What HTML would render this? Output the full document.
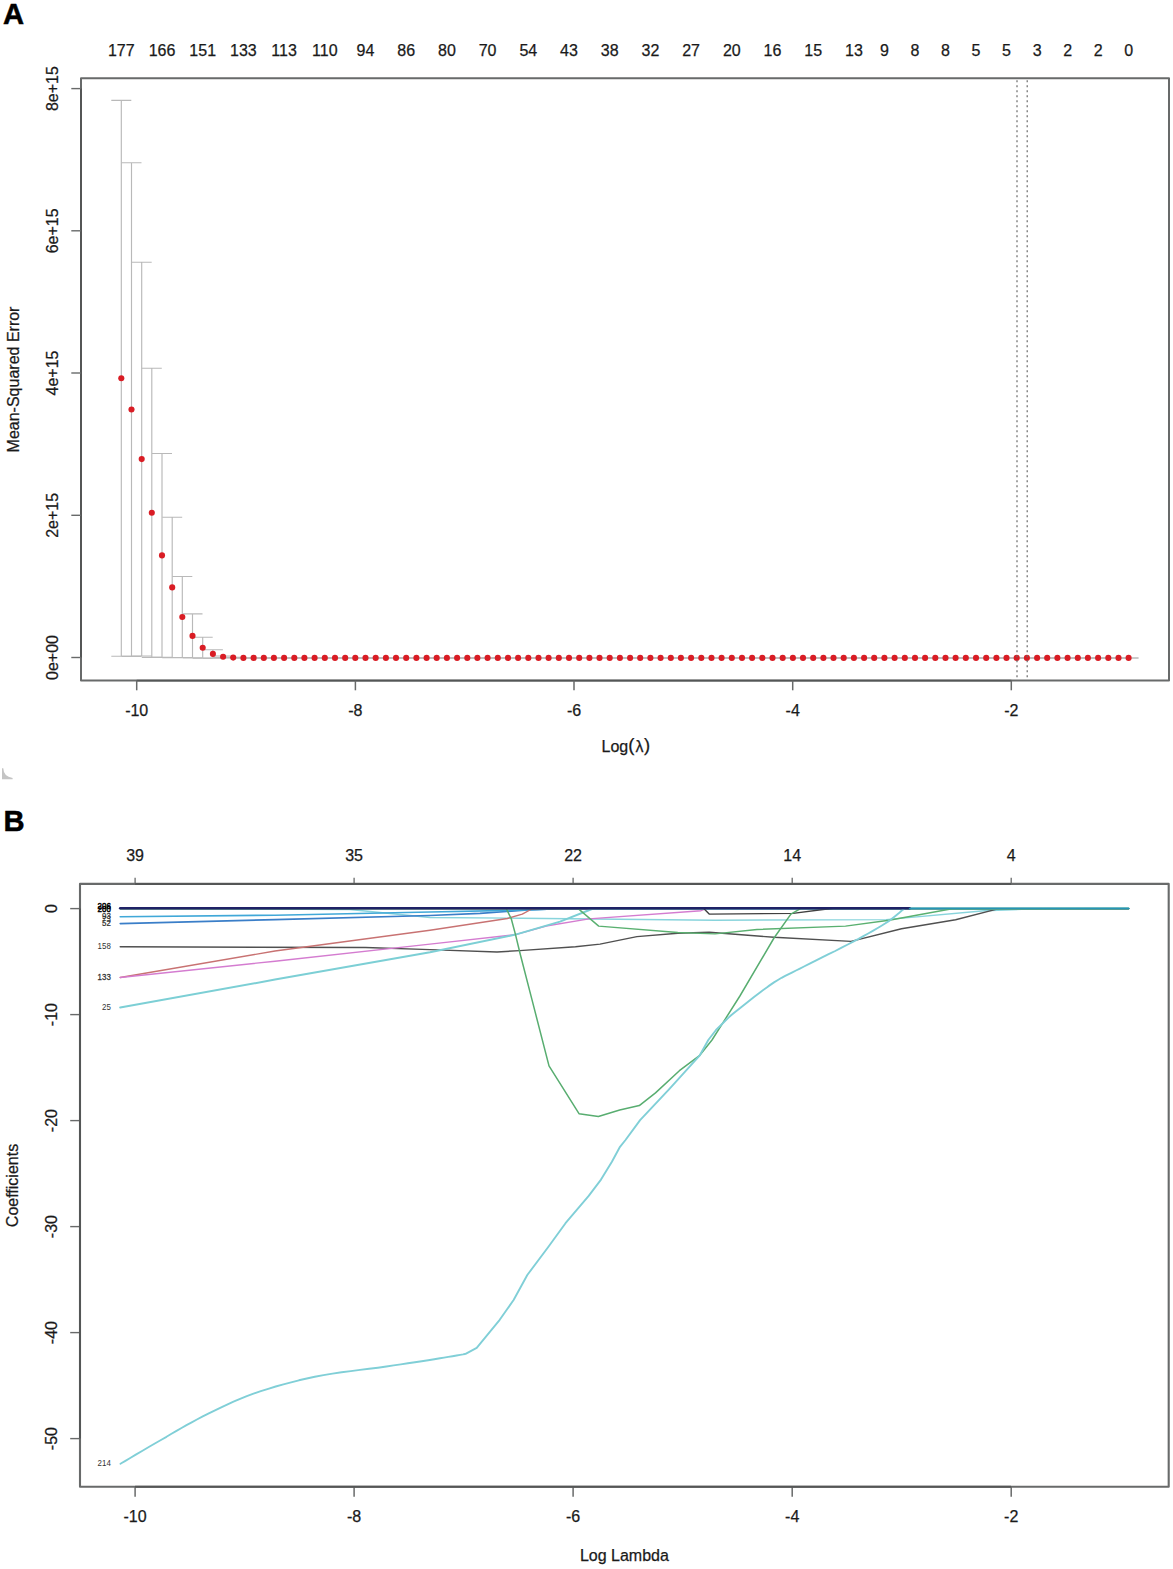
<!DOCTYPE html>
<html><head><meta charset="utf-8"><style>
html,body{margin:0;padding:0;background:#fff;}
svg{display:block;}
text{font-family:"Liberation Sans", sans-serif;}
.t{stroke:#1a1a1a;stroke-width:0.25px;}
</style></head><body>
<svg width="1173" height="1569" viewBox="0 0 1173 1569">
<rect width="1173" height="1569" fill="#fff"/>
<text x="3.0" y="23.9" font-size="29.2" text-anchor="start" font-weight="bold" fill="#000" stroke="#000" stroke-width="0.5">A</text>
<text x="121.3" y="55.6" font-size="16" text-anchor="middle" font-weight="normal" fill="#1a1a1a" class="t" >177</text>
<text x="162.0" y="55.6" font-size="16" text-anchor="middle" font-weight="normal" fill="#1a1a1a" class="t" >166</text>
<text x="202.7" y="55.6" font-size="16" text-anchor="middle" font-weight="normal" fill="#1a1a1a" class="t" >151</text>
<text x="243.4" y="55.6" font-size="16" text-anchor="middle" font-weight="normal" fill="#1a1a1a" class="t" >133</text>
<text x="284.1" y="55.6" font-size="16" text-anchor="middle" font-weight="normal" fill="#1a1a1a" class="t" >113</text>
<text x="324.8" y="55.6" font-size="16" text-anchor="middle" font-weight="normal" fill="#1a1a1a" class="t" >110</text>
<text x="365.5" y="55.6" font-size="16" text-anchor="middle" font-weight="normal" fill="#1a1a1a" class="t" >94</text>
<text x="406.2" y="55.6" font-size="16" text-anchor="middle" font-weight="normal" fill="#1a1a1a" class="t" >86</text>
<text x="446.9" y="55.6" font-size="16" text-anchor="middle" font-weight="normal" fill="#1a1a1a" class="t" >80</text>
<text x="487.6" y="55.6" font-size="16" text-anchor="middle" font-weight="normal" fill="#1a1a1a" class="t" >70</text>
<text x="528.3" y="55.6" font-size="16" text-anchor="middle" font-weight="normal" fill="#1a1a1a" class="t" >54</text>
<text x="569.0" y="55.6" font-size="16" text-anchor="middle" font-weight="normal" fill="#1a1a1a" class="t" >43</text>
<text x="609.7" y="55.6" font-size="16" text-anchor="middle" font-weight="normal" fill="#1a1a1a" class="t" >38</text>
<text x="650.4" y="55.6" font-size="16" text-anchor="middle" font-weight="normal" fill="#1a1a1a" class="t" >32</text>
<text x="691.1" y="55.6" font-size="16" text-anchor="middle" font-weight="normal" fill="#1a1a1a" class="t" >27</text>
<text x="731.8" y="55.6" font-size="16" text-anchor="middle" font-weight="normal" fill="#1a1a1a" class="t" >20</text>
<text x="772.5" y="55.6" font-size="16" text-anchor="middle" font-weight="normal" fill="#1a1a1a" class="t" >16</text>
<text x="813.2" y="55.6" font-size="16" text-anchor="middle" font-weight="normal" fill="#1a1a1a" class="t" >15</text>
<text x="853.9" y="55.6" font-size="16" text-anchor="middle" font-weight="normal" fill="#1a1a1a" class="t" >13</text>
<text x="884.4" y="55.6" font-size="16" text-anchor="middle" font-weight="normal" fill="#1a1a1a" class="t" >9</text>
<text x="915.0" y="55.6" font-size="16" text-anchor="middle" font-weight="normal" fill="#1a1a1a" class="t" >8</text>
<text x="945.5" y="55.6" font-size="16" text-anchor="middle" font-weight="normal" fill="#1a1a1a" class="t" >8</text>
<text x="976.0" y="55.6" font-size="16" text-anchor="middle" font-weight="normal" fill="#1a1a1a" class="t" >5</text>
<text x="1006.5" y="55.6" font-size="16" text-anchor="middle" font-weight="normal" fill="#1a1a1a" class="t" >5</text>
<text x="1037.1" y="55.6" font-size="16" text-anchor="middle" font-weight="normal" fill="#1a1a1a" class="t" >3</text>
<text x="1067.6" y="55.6" font-size="16" text-anchor="middle" font-weight="normal" fill="#1a1a1a" class="t" >2</text>
<text x="1098.1" y="55.6" font-size="16" text-anchor="middle" font-weight="normal" fill="#1a1a1a" class="t" >2</text>
<text x="1128.6" y="55.6" font-size="16" text-anchor="middle" font-weight="normal" fill="#1a1a1a" class="t" >0</text>
<g stroke="#b9b9b9" stroke-width="1.15" fill="none">
<path d="M121.3,100.4V656.2M111.3,100.4H131.3M111.3,656.2H131.3"/>
<path d="M131.5,162.7V656.3M121.5,162.7H141.5M121.5,656.3H141.5"/>
<path d="M141.7,262.2V656.0M131.7,262.2H151.7M131.7,656.0H151.7"/>
<path d="M151.8,368.2V657.4M141.8,368.2H161.8M141.8,657.4H161.8"/>
<path d="M162.0,453.5V657.3M152.0,453.5H172.0M152.0,657.3H172.0"/>
<path d="M172.2,517.2V657.6M162.2,517.2H182.2M162.2,657.6H182.2"/>
<path d="M182.3,576.5V657.5M172.3,576.5H192.3M172.3,657.5H192.3"/>
<path d="M192.5,613.9V657.9M182.5,613.9H202.5M182.5,657.9H202.5"/>
<path d="M202.7,637.2V658.2M192.7,637.2H212.7M192.7,658.2H212.7"/>
<path d="M212.9,649.7V658.1M202.9,649.7H222.9M202.9,658.1H222.9"/>
<path d="M223.1,656.0V657.6M213.1,656.0H233.1M213.1,657.6H233.1"/>
<path d="M233.2,657.3V657.9M223.2,657.3H243.2M223.2,657.9H243.2"/>
<path d="M243.4,657.7V658.2M233.4,657.7H253.4M233.4,658.2H253.4"/>
<path d="M253.6,657.7V658.2M243.6,657.7H263.6M243.6,658.2H263.6"/>
<path d="M263.8,657.7V658.2M253.8,657.7H273.8M253.8,658.2H273.8"/>
<path d="M273.9,657.7V658.2M263.9,657.7H283.9M263.9,658.2H283.9"/>
<path d="M284.1,657.7V658.2M274.1,657.7H294.1M274.1,658.2H294.1"/>
<path d="M294.3,657.7V658.2M284.3,657.7H304.3M284.3,658.2H304.3"/>
<path d="M304.4,657.7V658.2M294.4,657.7H314.4M294.4,658.2H314.4"/>
<path d="M314.6,657.7V658.2M304.6,657.7H324.6M304.6,658.2H324.6"/>
<path d="M324.8,657.7V658.2M314.8,657.7H334.8M314.8,658.2H334.8"/>
<path d="M335.0,657.7V658.2M325.0,657.7H345.0M325.0,658.2H345.0"/>
<path d="M345.2,657.7V658.2M335.2,657.7H355.2M335.2,658.2H355.2"/>
<path d="M355.3,657.7V658.2M345.3,657.7H365.3M345.3,658.2H365.3"/>
<path d="M365.5,657.7V658.2M355.5,657.7H375.5M355.5,658.2H375.5"/>
<path d="M375.7,657.7V658.2M365.7,657.7H385.7M365.7,658.2H385.7"/>
<path d="M385.9,657.7V658.2M375.9,657.7H395.9M375.9,658.2H395.9"/>
<path d="M396.0,657.7V658.2M386.0,657.7H406.0M386.0,658.2H406.0"/>
<path d="M406.2,657.7V658.2M396.2,657.7H416.2M396.2,658.2H416.2"/>
<path d="M416.4,657.7V658.2M406.4,657.7H426.4M406.4,658.2H426.4"/>
<path d="M426.6,657.7V658.2M416.6,657.7H436.6M416.6,658.2H436.6"/>
<path d="M436.7,657.7V658.2M426.7,657.7H446.7M426.7,658.2H446.7"/>
<path d="M446.9,657.7V658.2M436.9,657.7H456.9M436.9,658.2H456.9"/>
<path d="M457.1,657.7V658.2M447.1,657.7H467.1M447.1,658.2H467.1"/>
<path d="M467.3,657.7V658.2M457.3,657.7H477.3M457.3,658.2H477.3"/>
<path d="M477.4,657.7V658.2M467.4,657.7H487.4M467.4,658.2H487.4"/>
<path d="M487.6,657.7V658.2M477.6,657.7H497.6M477.6,658.2H497.6"/>
<path d="M497.8,657.7V658.2M487.8,657.7H507.8M487.8,658.2H507.8"/>
<path d="M508.0,657.7V658.2M498.0,657.7H518.0M498.0,658.2H518.0"/>
<path d="M518.1,657.7V658.2M508.1,657.7H528.1M508.1,658.2H528.1"/>
<path d="M528.3,657.7V658.2M518.3,657.7H538.3M518.3,658.2H538.3"/>
<path d="M538.5,657.7V658.2M528.5,657.7H548.5M528.5,658.2H548.5"/>
<path d="M548.6,657.7V658.2M538.6,657.7H558.6M538.6,658.2H558.6"/>
<path d="M558.8,657.7V658.2M548.8,657.7H568.8M548.8,658.2H568.8"/>
<path d="M569.0,657.7V658.2M559.0,657.7H579.0M559.0,658.2H579.0"/>
<path d="M579.2,657.7V658.2M569.2,657.7H589.2M569.2,658.2H589.2"/>
<path d="M589.4,657.7V658.2M579.4,657.7H599.4M579.4,658.2H599.4"/>
<path d="M599.5,657.7V658.2M589.5,657.7H609.5M589.5,658.2H609.5"/>
<path d="M609.7,657.7V658.2M599.7,657.7H619.7M599.7,658.2H619.7"/>
<path d="M619.9,657.7V658.2M609.9,657.7H629.9M609.9,658.2H629.9"/>
<path d="M630.1,657.7V658.2M620.1,657.7H640.1M620.1,658.2H640.1"/>
<path d="M640.2,657.7V658.2M630.2,657.7H650.2M630.2,658.2H650.2"/>
<path d="M650.4,657.7V658.2M640.4,657.7H660.4M640.4,658.2H660.4"/>
<path d="M660.6,657.7V658.2M650.6,657.7H670.6M650.6,658.2H670.6"/>
<path d="M670.8,657.7V658.2M660.8,657.7H680.8M660.8,658.2H680.8"/>
<path d="M680.9,657.7V658.2M670.9,657.7H690.9M670.9,658.2H690.9"/>
<path d="M691.1,657.7V658.2M681.1,657.7H701.1M681.1,658.2H701.1"/>
<path d="M701.3,657.7V658.2M691.3,657.7H711.3M691.3,658.2H711.3"/>
<path d="M711.5,657.7V658.2M701.5,657.7H721.5M701.5,658.2H721.5"/>
<path d="M721.6,657.7V658.2M711.6,657.7H731.6M711.6,658.2H731.6"/>
<path d="M731.8,657.7V658.2M721.8,657.7H741.8M721.8,658.2H741.8"/>
<path d="M742.0,657.7V658.2M732.0,657.7H752.0M732.0,658.2H752.0"/>
<path d="M752.1,657.7V658.2M742.1,657.7H762.1M742.1,658.2H762.1"/>
<path d="M762.3,657.7V658.2M752.3,657.7H772.3M752.3,658.2H772.3"/>
<path d="M772.5,657.7V658.2M762.5,657.7H782.5M762.5,658.2H782.5"/>
<path d="M782.7,657.7V658.2M772.7,657.7H792.7M772.7,658.2H792.7"/>
<path d="M792.9,657.7V658.2M782.9,657.7H802.9M782.9,658.2H802.9"/>
<path d="M803.0,657.7V658.2M793.0,657.7H813.0M793.0,658.2H813.0"/>
<path d="M813.2,657.7V658.2M803.2,657.7H823.2M803.2,658.2H823.2"/>
<path d="M823.4,657.7V658.2M813.4,657.7H833.4M813.4,658.2H833.4"/>
<path d="M833.5,657.7V658.2M823.5,657.7H843.5M823.5,658.2H843.5"/>
<path d="M843.7,657.7V658.2M833.7,657.7H853.7M833.7,658.2H853.7"/>
<path d="M853.9,657.7V658.2M843.9,657.7H863.9M843.9,658.2H863.9"/>
<path d="M864.1,657.7V658.2M854.1,657.7H874.1M854.1,658.2H874.1"/>
<path d="M874.2,657.7V658.2M864.2,657.7H884.2M864.2,658.2H884.2"/>
<path d="M884.4,657.7V658.2M874.4,657.7H894.4M874.4,658.2H894.4"/>
<path d="M894.6,657.7V658.2M884.6,657.7H904.6M884.6,658.2H904.6"/>
<path d="M904.8,657.7V658.2M894.8,657.7H914.8M894.8,658.2H914.8"/>
<path d="M915.0,657.7V658.2M905.0,657.7H925.0M905.0,658.2H925.0"/>
<path d="M925.1,657.7V658.2M915.1,657.7H935.1M915.1,658.2H935.1"/>
<path d="M935.3,657.7V658.2M925.3,657.7H945.3M925.3,658.2H945.3"/>
<path d="M945.5,657.7V658.2M935.5,657.7H955.5M935.5,658.2H955.5"/>
<path d="M955.6,657.7V658.2M945.6,657.7H965.6M945.6,658.2H965.6"/>
<path d="M965.8,657.7V658.2M955.8,657.7H975.8M955.8,658.2H975.8"/>
<path d="M976.0,657.7V658.2M966.0,657.7H986.0M966.0,658.2H986.0"/>
<path d="M986.2,657.7V658.2M976.2,657.7H996.2M976.2,658.2H996.2"/>
<path d="M996.4,657.7V658.2M986.4,657.7H1006.4M986.4,658.2H1006.4"/>
<path d="M1006.5,657.7V658.2M996.5,657.7H1016.5M996.5,658.2H1016.5"/>
<path d="M1016.7,657.7V658.2M1006.7,657.7H1026.7M1006.7,658.2H1026.7"/>
<path d="M1026.9,657.7V658.2M1016.9,657.7H1036.9M1016.9,658.2H1036.9"/>
<path d="M1037.1,657.7V658.2M1027.1,657.7H1047.1M1027.1,658.2H1047.1"/>
<path d="M1047.2,657.7V658.2M1037.2,657.7H1057.2M1037.2,658.2H1057.2"/>
<path d="M1057.4,657.7V658.2M1047.4,657.7H1067.4M1047.4,658.2H1067.4"/>
<path d="M1067.6,657.7V658.2M1057.6,657.7H1077.6M1057.6,658.2H1077.6"/>
<path d="M1077.8,657.7V658.2M1067.8,657.7H1087.8M1067.8,658.2H1087.8"/>
<path d="M1087.9,657.7V658.2M1077.9,657.7H1097.9M1077.9,658.2H1097.9"/>
<path d="M1098.1,657.7V658.2M1088.1,657.7H1108.1M1088.1,658.2H1108.1"/>
<path d="M1108.3,657.7V658.2M1098.3,657.7H1118.3M1098.3,658.2H1118.3"/>
<path d="M1118.5,657.7V658.2M1108.5,657.7H1128.5M1108.5,658.2H1128.5"/>
<path d="M1128.6,657.7V658.2M1118.6,657.7H1138.6M1118.6,658.2H1138.6"/>
</g>
<g fill="#d91c24">
<circle cx="121.3" cy="378.3" r="3.05"/>
<circle cx="131.5" cy="409.5" r="3.05"/>
<circle cx="141.7" cy="459.1" r="3.05"/>
<circle cx="151.8" cy="512.8" r="3.05"/>
<circle cx="162.0" cy="555.4" r="3.05"/>
<circle cx="172.2" cy="587.4" r="3.05"/>
<circle cx="182.3" cy="617.0" r="3.05"/>
<circle cx="192.5" cy="635.9" r="3.05"/>
<circle cx="202.7" cy="647.7" r="3.05"/>
<circle cx="212.9" cy="653.9" r="3.05"/>
<circle cx="223.1" cy="656.8" r="3.05"/>
<circle cx="233.2" cy="657.6" r="3.05"/>
<circle cx="243.4" cy="657.9" r="3.05"/>
<circle cx="253.6" cy="657.9" r="3.05"/>
<circle cx="263.8" cy="657.9" r="3.05"/>
<circle cx="273.9" cy="657.9" r="3.05"/>
<circle cx="284.1" cy="657.9" r="3.05"/>
<circle cx="294.3" cy="657.9" r="3.05"/>
<circle cx="304.4" cy="657.9" r="3.05"/>
<circle cx="314.6" cy="657.9" r="3.05"/>
<circle cx="324.8" cy="657.9" r="3.05"/>
<circle cx="335.0" cy="657.9" r="3.05"/>
<circle cx="345.2" cy="657.9" r="3.05"/>
<circle cx="355.3" cy="657.9" r="3.05"/>
<circle cx="365.5" cy="657.9" r="3.05"/>
<circle cx="375.7" cy="657.9" r="3.05"/>
<circle cx="385.9" cy="657.9" r="3.05"/>
<circle cx="396.0" cy="657.9" r="3.05"/>
<circle cx="406.2" cy="657.9" r="3.05"/>
<circle cx="416.4" cy="657.9" r="3.05"/>
<circle cx="426.6" cy="657.9" r="3.05"/>
<circle cx="436.7" cy="657.9" r="3.05"/>
<circle cx="446.9" cy="657.9" r="3.05"/>
<circle cx="457.1" cy="657.9" r="3.05"/>
<circle cx="467.3" cy="657.9" r="3.05"/>
<circle cx="477.4" cy="657.9" r="3.05"/>
<circle cx="487.6" cy="657.9" r="3.05"/>
<circle cx="497.8" cy="657.9" r="3.05"/>
<circle cx="508.0" cy="657.9" r="3.05"/>
<circle cx="518.1" cy="657.9" r="3.05"/>
<circle cx="528.3" cy="657.9" r="3.05"/>
<circle cx="538.5" cy="657.9" r="3.05"/>
<circle cx="548.6" cy="657.9" r="3.05"/>
<circle cx="558.8" cy="657.9" r="3.05"/>
<circle cx="569.0" cy="657.9" r="3.05"/>
<circle cx="579.2" cy="657.9" r="3.05"/>
<circle cx="589.4" cy="657.9" r="3.05"/>
<circle cx="599.5" cy="657.9" r="3.05"/>
<circle cx="609.7" cy="657.9" r="3.05"/>
<circle cx="619.9" cy="657.9" r="3.05"/>
<circle cx="630.1" cy="657.9" r="3.05"/>
<circle cx="640.2" cy="657.9" r="3.05"/>
<circle cx="650.4" cy="657.9" r="3.05"/>
<circle cx="660.6" cy="657.9" r="3.05"/>
<circle cx="670.8" cy="657.9" r="3.05"/>
<circle cx="680.9" cy="657.9" r="3.05"/>
<circle cx="691.1" cy="657.9" r="3.05"/>
<circle cx="701.3" cy="657.9" r="3.05"/>
<circle cx="711.5" cy="657.9" r="3.05"/>
<circle cx="721.6" cy="657.9" r="3.05"/>
<circle cx="731.8" cy="657.9" r="3.05"/>
<circle cx="742.0" cy="657.9" r="3.05"/>
<circle cx="752.1" cy="657.9" r="3.05"/>
<circle cx="762.3" cy="657.9" r="3.05"/>
<circle cx="772.5" cy="657.9" r="3.05"/>
<circle cx="782.7" cy="657.9" r="3.05"/>
<circle cx="792.9" cy="657.9" r="3.05"/>
<circle cx="803.0" cy="657.9" r="3.05"/>
<circle cx="813.2" cy="657.9" r="3.05"/>
<circle cx="823.4" cy="657.9" r="3.05"/>
<circle cx="833.5" cy="657.9" r="3.05"/>
<circle cx="843.7" cy="657.9" r="3.05"/>
<circle cx="853.9" cy="657.9" r="3.05"/>
<circle cx="864.1" cy="657.9" r="3.05"/>
<circle cx="874.2" cy="657.9" r="3.05"/>
<circle cx="884.4" cy="657.9" r="3.05"/>
<circle cx="894.6" cy="657.9" r="3.05"/>
<circle cx="904.8" cy="657.9" r="3.05"/>
<circle cx="915.0" cy="657.9" r="3.05"/>
<circle cx="925.1" cy="657.9" r="3.05"/>
<circle cx="935.3" cy="657.9" r="3.05"/>
<circle cx="945.5" cy="657.9" r="3.05"/>
<circle cx="955.6" cy="657.9" r="3.05"/>
<circle cx="965.8" cy="657.9" r="3.05"/>
<circle cx="976.0" cy="657.9" r="3.05"/>
<circle cx="986.2" cy="657.9" r="3.05"/>
<circle cx="996.4" cy="657.9" r="3.05"/>
<circle cx="1006.5" cy="657.9" r="3.05"/>
<circle cx="1016.7" cy="657.9" r="3.05"/>
<circle cx="1026.9" cy="657.9" r="3.05"/>
<circle cx="1037.1" cy="657.9" r="3.05"/>
<circle cx="1047.2" cy="657.9" r="3.05"/>
<circle cx="1057.4" cy="657.9" r="3.05"/>
<circle cx="1067.6" cy="657.9" r="3.05"/>
<circle cx="1077.8" cy="657.9" r="3.05"/>
<circle cx="1087.9" cy="657.9" r="3.05"/>
<circle cx="1098.1" cy="657.9" r="3.05"/>
<circle cx="1108.3" cy="657.9" r="3.05"/>
<circle cx="1118.5" cy="657.9" r="3.05"/>
<circle cx="1128.6" cy="657.9" r="3.05"/>
</g>
<path d="M1017,80.3V679.6M1027.2,80.3V679.6" stroke="#6a6a6a" stroke-width="1.2" stroke-dasharray="2,3" fill="none"/>
<rect x="81.0" y="78.3" width="1088.0" height="602.3000000000001" fill="none" stroke="#686a6a" stroke-width="2.0" stroke-linejoin="round"/>
<path d="M81.0,88.6V657.5M136.7,680.6H1011.3" stroke="#545656" stroke-width="1.9" fill="none"/>
<path d="M71.3,657.5H81.0" stroke="#686a6a" stroke-width="1.4"/>
<text x="58.4" y="657.5" font-size="16" text-anchor="middle" font-weight="normal" fill="#1a1a1a" class="t" transform="rotate(-90 58.4 657.5)" >0e+00</text>
<path d="M71.3,515.3H81.0" stroke="#686a6a" stroke-width="1.4"/>
<text x="58.4" y="515.3" font-size="16" text-anchor="middle" font-weight="normal" fill="#1a1a1a" class="t" transform="rotate(-90 58.4 515.3)" >2e+15</text>
<path d="M71.3,373.0H81.0" stroke="#686a6a" stroke-width="1.4"/>
<text x="58.4" y="373.0" font-size="16" text-anchor="middle" font-weight="normal" fill="#1a1a1a" class="t" transform="rotate(-90 58.4 373.0)" >4e+15</text>
<path d="M71.3,230.8H81.0" stroke="#686a6a" stroke-width="1.4"/>
<text x="58.4" y="230.8" font-size="16" text-anchor="middle" font-weight="normal" fill="#1a1a1a" class="t" transform="rotate(-90 58.4 230.8)" >6e+15</text>
<path d="M71.3,88.6H81.0" stroke="#686a6a" stroke-width="1.4"/>
<text x="58.4" y="88.6" font-size="16" text-anchor="middle" font-weight="normal" fill="#1a1a1a" class="t" transform="rotate(-90 58.4 88.6)" >8e+15</text>
<path d="M136.7,680.6V690.3" stroke="#686a6a" stroke-width="1.5"/>
<text x="136.7" y="716.0" font-size="16" text-anchor="middle" font-weight="normal" fill="#1a1a1a" class="t" >-10</text>
<path d="M355.4,680.6V690.3" stroke="#686a6a" stroke-width="1.5"/>
<text x="355.4" y="716.0" font-size="16" text-anchor="middle" font-weight="normal" fill="#1a1a1a" class="t" >-8</text>
<path d="M574.0,680.6V690.3" stroke="#686a6a" stroke-width="1.5"/>
<text x="574.0" y="716.0" font-size="16" text-anchor="middle" font-weight="normal" fill="#1a1a1a" class="t" >-6</text>
<path d="M792.7,680.6V690.3" stroke="#686a6a" stroke-width="1.5"/>
<text x="792.7" y="716.0" font-size="16" text-anchor="middle" font-weight="normal" fill="#1a1a1a" class="t" >-4</text>
<path d="M1011.3,680.6V690.3" stroke="#686a6a" stroke-width="1.5"/>
<text x="1011.3" y="716.0" font-size="16" text-anchor="middle" font-weight="normal" fill="#1a1a1a" class="t" >-2</text>
<text x="601.5" y="751.5" font-size="16" fill="#1a1a1a" class="t">Log<tspan font-size="18.5" dy="-0.5">(</tspan><tspan dx="1" dy="0.5">&#955;</tspan><tspan font-size="18.5" dx="0.5" dy="-0.5">)</tspan></text>
<text x="19.3" y="379.5" font-size="16" text-anchor="middle" font-weight="normal" fill="#1a1a1a" class="t" transform="rotate(-90 19.3 379.5)" >Mean-Squared Error</text>
<path d="M2,768.3 L3.3,768.3 Q3.6,776.8 12.6,777.9 L12.6,779.2 L2,779.2 Z" fill="#c4c4c4"/>
<text x="3.6" y="831.1" font-size="29.2" text-anchor="start" font-weight="bold" fill="#000" stroke="#000" stroke-width="0.5">B</text>
<path d="M135.1,883.9V877.8" stroke="#686a6a" stroke-width="1.3"/>
<text x="135.1" y="861.4" font-size="16" text-anchor="middle" font-weight="normal" fill="#1a1a1a" class="t" >39</text>
<path d="M354.1,883.9V877.8" stroke="#686a6a" stroke-width="1.3"/>
<text x="354.1" y="861.4" font-size="16" text-anchor="middle" font-weight="normal" fill="#1a1a1a" class="t" >35</text>
<path d="M573.1,883.9V877.8" stroke="#686a6a" stroke-width="1.3"/>
<text x="573.1" y="861.4" font-size="16" text-anchor="middle" font-weight="normal" fill="#1a1a1a" class="t" >22</text>
<path d="M792.2,883.9V877.8" stroke="#686a6a" stroke-width="1.3"/>
<text x="792.2" y="861.4" font-size="16" text-anchor="middle" font-weight="normal" fill="#1a1a1a" class="t" >14</text>
<path d="M1011.2,883.9V877.8" stroke="#686a6a" stroke-width="1.3"/>
<text x="1011.2" y="861.4" font-size="16" text-anchor="middle" font-weight="normal" fill="#1a1a1a" class="t" >4</text>
<path d="M135.1,1486.7V1496.8" stroke="#686a6a" stroke-width="1.5"/>
<text x="135.1" y="1522.3" font-size="16" text-anchor="middle" font-weight="normal" fill="#1a1a1a" class="t" >-10</text>
<path d="M354.1,1486.7V1496.8" stroke="#686a6a" stroke-width="1.5"/>
<text x="354.1" y="1522.3" font-size="16" text-anchor="middle" font-weight="normal" fill="#1a1a1a" class="t" >-8</text>
<path d="M573.1,1486.7V1496.8" stroke="#686a6a" stroke-width="1.5"/>
<text x="573.1" y="1522.3" font-size="16" text-anchor="middle" font-weight="normal" fill="#1a1a1a" class="t" >-6</text>
<path d="M792.2,1486.7V1496.8" stroke="#686a6a" stroke-width="1.5"/>
<text x="792.2" y="1522.3" font-size="16" text-anchor="middle" font-weight="normal" fill="#1a1a1a" class="t" >-4</text>
<path d="M1011.2,1486.7V1496.8" stroke="#686a6a" stroke-width="1.5"/>
<text x="1011.2" y="1522.3" font-size="16" text-anchor="middle" font-weight="normal" fill="#1a1a1a" class="t" >-2</text>
<path d="M70.2,908.6H80.0" stroke="#686a6a" stroke-width="1.4"/>
<text x="57.1" y="908.6" font-size="16" text-anchor="middle" font-weight="normal" fill="#1a1a1a" class="t" transform="rotate(-90 57.1 908.6)" >0</text>
<path d="M70.2,1014.6H80.0" stroke="#686a6a" stroke-width="1.4"/>
<text x="57.1" y="1014.6" font-size="16" text-anchor="middle" font-weight="normal" fill="#1a1a1a" class="t" transform="rotate(-90 57.1 1014.6)" >-10</text>
<path d="M70.2,1120.6H80.0" stroke="#686a6a" stroke-width="1.4"/>
<text x="57.1" y="1120.6" font-size="16" text-anchor="middle" font-weight="normal" fill="#1a1a1a" class="t" transform="rotate(-90 57.1 1120.6)" >-20</text>
<path d="M70.2,1226.6H80.0" stroke="#686a6a" stroke-width="1.4"/>
<text x="57.1" y="1226.6" font-size="16" text-anchor="middle" font-weight="normal" fill="#1a1a1a" class="t" transform="rotate(-90 57.1 1226.6)" >-30</text>
<path d="M70.2,1332.6H80.0" stroke="#686a6a" stroke-width="1.4"/>
<text x="57.1" y="1332.6" font-size="16" text-anchor="middle" font-weight="normal" fill="#1a1a1a" class="t" transform="rotate(-90 57.1 1332.6)" >-40</text>
<path d="M70.2,1438.6H80.0" stroke="#686a6a" stroke-width="1.4"/>
<text x="57.1" y="1438.6" font-size="16" text-anchor="middle" font-weight="normal" fill="#1a1a1a" class="t" transform="rotate(-90 57.1 1438.6)" >-50</text>
<text x="624.4" y="1561.4" font-size="16" text-anchor="middle" font-weight="normal" fill="#1a1a1a" class="t" >Log Lambda</text>
<text x="17.8" y="1185.5" font-size="16" text-anchor="middle" font-weight="normal" fill="#1a1a1a" class="t" transform="rotate(-90 17.8 1185.5)" >Coefficients</text>
<polyline points="120.2,908.6 350.0,909.5 430.0,917.5 521.0,918.2 715.0,920.2 886.0,919.6 984.4,910.7 1040.0,908.6 1128.6,908.6" fill="none" stroke="#88d4dc" stroke-width="1.4" stroke-linejoin="round" stroke-linecap="round" />
<polyline points="120.2,923.6 275.0,919.6 430.0,915.5 480.0,913.4 527.7,910.0 560.0,908.6 1128.6,908.6" fill="none" stroke="#3a7ec8" stroke-width="1.6" stroke-linejoin="round" stroke-linecap="round" />
<polyline points="120.2,916.8 275.0,915.2 430.0,912.0 527.7,910.0 560.0,908.6 1128.6,908.6" fill="none" stroke="#40a8d8" stroke-width="1.6" stroke-linejoin="round" stroke-linecap="round" />
<polyline points="120.2,946.8 365.5,947.5 430.0,949.6 497.0,952.0 519.6,950.6 575.5,946.8 600.0,944.1 636.9,936.6 677.8,933.2 709.3,932.2 774.0,937.3 851.0,941.4 901.5,928.7 955.6,919.7 998.8,908.6 1128.6,908.6" fill="none" stroke="#505050" stroke-width="1.4" stroke-linejoin="round" stroke-linecap="round" />
<polyline points="120.2,977.5 275.0,951.0 430.0,930.2 507.4,918.5 522.3,914.1 531.8,909.0 540.0,908.6 1128.6,908.6" fill="none" stroke="#c87272" stroke-width="1.4" stroke-linejoin="round" stroke-linecap="round" />
<polyline points="120.2,977.5 275.0,961.2 430.0,944.1 515.5,934.6 546.2,926.0 589.0,918.9 701.0,910.7 706.0,908.6 1128.6,908.6" fill="none" stroke="#d47cd0" stroke-width="1.4" stroke-linejoin="round" stroke-linecap="round" />
<polyline points="120.2,1007.6 275.0,979.6 430.0,952.3 515.5,934.6 560.0,921.6 592.0,909.0 1128.6,908.6" fill="none" stroke="#7ccfd5" stroke-width="2.0" stroke-linejoin="round" stroke-linecap="round" />
<polyline points="120.2,908.6 703.7,908.6 709.2,914.1 793.0,913.4 825.0,909.3 833.0,908.6 1128.6,908.6" fill="none" stroke="#404040" stroke-width="1.4" stroke-linejoin="round" stroke-linecap="round" />
<polyline points="120.2,908.6 578.2,908.6 598.7,926.1 677.8,932.5 715.0,933.9 757.0,929.5 845.5,926.1 889.1,920.2 952.0,908.8 1128.6,908.6" fill="none" stroke="#5ab070" stroke-width="1.4" stroke-linejoin="round" stroke-linecap="round" />
<polyline points="120.2,908.6 506.3,908.6 511.4,919.2 515.5,934.6 520.0,953.3 531.9,999.4 549.0,1065.9 579.0,1113.7 598.4,1116.5 619.7,1110.0 639.3,1105.6 655.5,1092.9 679.4,1070.7 699.8,1055.3 712.0,1040.0 739.9,996.0 774.0,938.0 790.9,914.1 800.5,908.6 1128.6,908.6" fill="none" stroke="#58ad70" stroke-width="1.5" stroke-linejoin="round" stroke-linecap="round" />
<polyline points="120.5,1463.7 121.7,1463.0 125.0,1461.1 129.8,1458.2 135.8,1454.6 142.5,1450.7 149.2,1446.8 155.7,1443.0 161.4,1439.7 166.5,1436.8 171.5,1433.8 176.5,1430.9 181.5,1428.0 186.5,1425.1 191.7,1422.3 196.9,1419.5 202.3,1416.7 208.3,1413.7 214.5,1410.6 220.7,1407.6 227.1,1404.6 233.5,1401.7 240.1,1398.9 246.8,1396.2 253.5,1393.7 260.8,1391.2 268.2,1388.8 275.7,1386.5 283.4,1384.3 291.1,1382.3 298.9,1380.3 306.8,1378.5 314.8,1376.8 323.5,1375.1 332.5,1373.6 341.6,1372.3 350.8,1371.1 360.0,1369.9 369.1,1368.8 377.9,1367.7 386.4,1366.5 393.6,1365.4 400.8,1364.4 407.9,1363.3 414.9,1362.2 421.7,1361.2 428.2,1360.2 434.3,1359.2 440.0,1358.3 444.0,1357.6 448.3,1356.9 452.5,1356.2 456.6,1355.5 460.2,1354.9 463.0,1354.4 464.9,1354.0 465.6,1353.9 476.7,1347.9 499.7,1319.8 513.6,1300.0 527.3,1275.0 547.7,1247.8 565.5,1223.2 588.7,1195.9 601.0,1179.6 611.9,1161.8 620.0,1146.8 625.5,1140.0 640.1,1120.1 669.0,1089.4 699.8,1055.3 708.3,1040.0 716.0,1030.0 729.8,1016.4 729.8,1016.4 731.1,1015.3 734.8,1012.3 740.2,1008.0 746.8,1002.7 754.0,997.0 761.3,991.4 768.2,986.4 774.0,982.4 777.9,980.0 781.6,977.8 785.2,975.9 788.8,974.1 792.4,972.3 796.0,970.5 799.9,968.6 804.0,966.5 809.7,963.6 815.7,960.6 822.1,957.4 828.6,954.2 835.2,951.0 841.6,947.7 847.8,944.5 853.7,941.4 858.6,938.8 863.4,936.1 868.2,933.5 872.8,930.9 877.3,928.3 881.5,925.8 885.5,923.3 889.1,920.9 891.5,919.1 894.1,917.1 896.6,915.1 899.0,913.1 901.0,911.3 902.6,909.9 903.7,909.0 904.1,908.6" fill="none" stroke="#80cfd7" stroke-width="1.9" stroke-linejoin="round" stroke-linecap="round" />
<polyline points="120.2,908.2 909.6,908.2" fill="none" stroke="#1f2266" stroke-width="2.6" stroke-linejoin="round" stroke-linecap="round" />
<polyline points="909.6,908.5 1128.6,908.5" fill="none" stroke="#2794b6" stroke-width="1.7" stroke-linejoin="round" stroke-linecap="round" />
<text transform="translate(110.8,909.0) scale(0.85,1)" x="0" y="0" font-size="9.3" text-anchor="end" fill="#000" stroke="#000" stroke-width="0.5">206</text>
<text transform="translate(110.8,911.8) scale(0.85,1)" x="0" y="0" font-size="9.3" text-anchor="end" fill="#000" stroke="#000" stroke-width="0.5">200</text>
<text transform="translate(110.8,919.2) scale(0.85,1)" x="0" y="0" font-size="9.3" text-anchor="end" fill="#333" stroke="#333" stroke-width="0.25">93</text>
<text transform="translate(110.8,922.4) scale(0.85,1)" x="0" y="0" font-size="9.3" text-anchor="end" fill="#333" >73</text>
<text transform="translate(110.8,925.8) scale(0.85,1)" x="0" y="0" font-size="9.3" text-anchor="end" fill="#333" stroke="#333" stroke-width="0.25">52</text>
<text transform="translate(110.8,949.2) scale(0.85,1)" x="0" y="0" font-size="9.3" text-anchor="end" fill="#333" >158</text>
<text transform="translate(110.8,979.9) scale(0.85,1)" x="0" y="0" font-size="9.3" text-anchor="end" fill="#333" stroke="#333" stroke-width="0.3">133</text>
<text transform="translate(110.8,1010.0) scale(0.85,1)" x="0" y="0" font-size="9.3" text-anchor="end" fill="#333" >25</text>
<text transform="translate(110.8,1466.4) scale(0.85,1)" x="0" y="0" font-size="9.3" text-anchor="end" fill="#333" >214</text>
<rect x="80.0" y="883.9" width="1088.7" height="602.8000000000001" fill="none" stroke="#686a6a" stroke-width="2.1" stroke-linejoin="round"/>
<path d="M80.0,908.6V1438.6M135.1,1486.7H1011.1M135.1,883.9H1011.1" stroke="#545656" stroke-width="2.0" fill="none"/>
</svg>
</body></html>
